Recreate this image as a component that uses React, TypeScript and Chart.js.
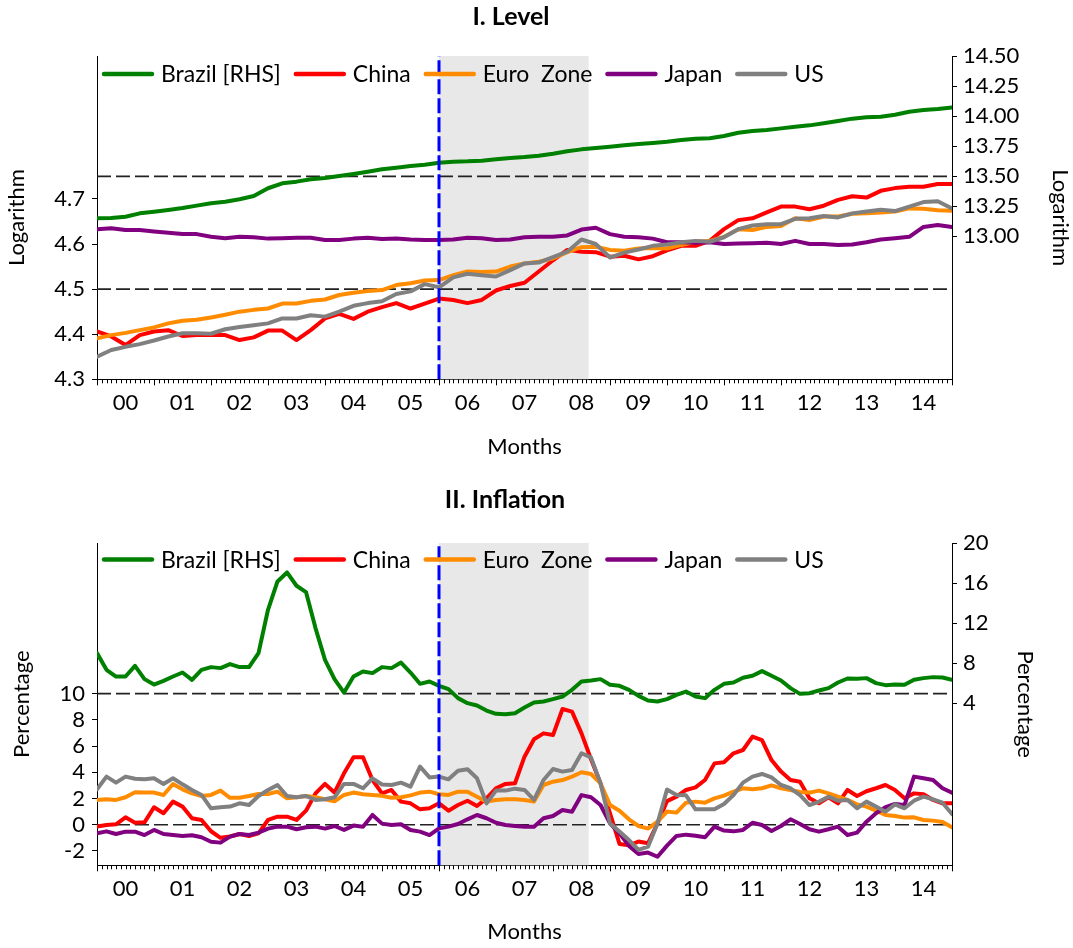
import React, { useEffect, useRef } from 'react';
import { Chart, registerables } from 'chart.js';

Chart.register(...registerables);

const FONT_FAMILY = 'Lato, "Noto Sans", sans-serif';
const FONT_SIZE = 22;
const LEGEND_FONT_SIZE = 23;

// ---------- shared categories ----------
const seriesNames = ['Brazil [RHS]', 'China', 'Euro  Zone', 'Japan', 'US'];
const seriesColors = ['#008000', '#ff0000', '#ff8c00', '#800080', '#808080'];
const yearLabels = ['00', '01', '02', '03', '04', '05', '06', '07', '08', '09', '10', '11', '12', '13', '14'];
const xRange = [2000, 2015];
const shadeRange = [2006, 2008.625];
const vlineDates = [2006];

// quarterly grid (2000Q1 .. 2015) for levels, bi-monthly grid for inflation
const levelDates = Array.from({ length: 61 }, (_, i) => 2000 + i / 4);
const inflationDates = Array.from({ length: 91 }, (_, i) => 2000 + i / 6);

// ---------- I. Level (log) ----------
const levelBrazil = [
  13.148, 13.15, 13.161, 13.189, 13.203, 13.217, 13.233, 13.253, 13.273, 13.286,
  13.306, 13.333, 13.398, 13.439, 13.453, 13.473, 13.483, 13.5, 13.517, 13.536,
  13.556, 13.569, 13.583, 13.594, 13.611, 13.619, 13.622, 13.628, 13.639, 13.65,
  13.658, 13.669, 13.686, 13.706, 13.722, 13.733, 13.744, 13.756, 13.767, 13.775,
  13.785, 13.8, 13.811, 13.814, 13.833, 13.861, 13.875, 13.883, 13.897, 13.911,
  13.922, 13.939, 13.958, 13.978, 13.989, 13.994, 14.011, 14.036, 14.05, 14.058,
  14.072,
];
const levelChina = [
  4.406, 4.395, 4.376, 4.398, 4.406, 4.409, 4.396, 4.398, 4.398, 4.398,
  4.387, 4.393, 4.408, 4.408, 4.387, 4.409, 4.435, 4.445, 4.434, 4.45,
  4.46, 4.469, 4.457, 4.468, 4.479, 4.476, 4.469, 4.476, 4.497, 4.507,
  4.514, 4.539, 4.564, 4.587, 4.583, 4.582, 4.572, 4.574, 4.566, 4.573,
  4.586, 4.596, 4.596, 4.607, 4.633, 4.653, 4.657, 4.67, 4.683, 4.683,
  4.677, 4.685, 4.698, 4.706, 4.703, 4.718, 4.724, 4.727, 4.727, 4.733,
  4.733,
];
const levelEuro = [
  4.391, 4.398, 4.403, 4.409, 4.415, 4.424, 4.43, 4.432, 4.437, 4.443,
  4.45, 4.454, 4.457, 4.468, 4.468, 4.474, 4.477, 4.487, 4.492, 4.496,
  4.498, 4.509, 4.513, 4.519, 4.52, 4.531, 4.539, 4.538, 4.539, 4.55,
  4.557, 4.561, 4.568, 4.582, 4.593, 4.594, 4.587, 4.585, 4.59, 4.591,
  4.59, 4.598, 4.605, 4.607, 4.616, 4.633, 4.631, 4.638, 4.64, 4.657,
  4.653, 4.661, 4.661, 4.667, 4.668, 4.67, 4.672, 4.679, 4.678, 4.675,
  4.674,
];
const levelJapan = [
  4.633, 4.635, 4.631, 4.631, 4.628, 4.625, 4.622, 4.622, 4.616, 4.613,
  4.616, 4.615, 4.612, 4.613, 4.614, 4.614, 4.609, 4.609, 4.612, 4.614,
  4.611, 4.612, 4.61, 4.609, 4.609, 4.61, 4.614, 4.613, 4.609, 4.61,
  4.615, 4.616, 4.616, 4.619, 4.632, 4.636, 4.622, 4.616, 4.615, 4.612,
  4.604, 4.604, 4.603, 4.604, 4.6, 4.601, 4.602, 4.603, 4.6, 4.607,
  4.6, 4.6, 4.598, 4.599, 4.604, 4.61, 4.613, 4.616, 4.638, 4.642,
  4.638,
];
const levelUS = [
  4.35, 4.365, 4.372, 4.378, 4.386, 4.395, 4.402, 4.402, 4.401, 4.411,
  4.416, 4.42, 4.424, 4.435, 4.435, 4.442, 4.439, 4.45, 4.463, 4.469,
  4.473, 4.489, 4.495, 4.511, 4.504, 4.526, 4.534, 4.531, 4.528, 4.542,
  4.557, 4.559, 4.571, 4.583, 4.61, 4.6, 4.57, 4.581, 4.588, 4.596,
  4.599, 4.604, 4.607, 4.605, 4.615, 4.633, 4.641, 4.644, 4.644, 4.656,
  4.657, 4.662, 4.659, 4.668, 4.672, 4.676, 4.673, 4.683, 4.693, 4.695,
  4.679,
];
const levelLeftTicks = [4.3, 4.4, 4.5, 4.6, 4.7];
const levelRightTicks = [13, 13.25, 13.5, 13.75, 14, 14.25, 14.5];
const levelLeftRange = [4.3, 5.017];
const levelRightRange = [11.806, 14.5];
const levelRefLines = [4.5, 4.75];

// ---------- II. Inflation (%) ----------
const infBrazil = [
  9.0, 7.33, 6.66, 6.66, 7.73, 6.4, 5.86, 6.23, 6.66, 7.06,
  6.33, 7.33, 7.6, 7.5, 7.9, 7.6, 7.6, 9.0, 13.33, 16.16,
  17.06, 15.73, 15.1, 11.5, 8.33, 6.4, 5.06, 6.66, 7.16, 7.0,
  7.6, 7.5, 8.06, 7.06, 5.93, 6.16, 5.73, 5.4, 4.5, 4.0,
  3.76, 3.26, 2.93, 2.9, 3.0, 3.56, 4.06, 4.16, 4.4, 4.66,
  5.33, 6.16, 6.26, 6.4, 5.83, 5.73, 5.33, 4.73, 4.26, 4.16,
  4.4, 4.83, 5.16, 4.66, 4.5, 5.33, 5.93, 6.06, 6.53, 6.73,
  7.2, 6.73, 6.26, 5.5, 4.93, 5.0, 5.26, 5.5, 6.06, 6.46,
  6.43, 6.5, 6.0, 5.8, 5.86, 5.83, 6.33, 6.5, 6.6, 6.56,
  6.33,
];
const infChina = [
  -0.15, -0.02, 0.03, 0.56, 0.15, 0.18, 1.33, 0.87, 1.76, 1.38,
  0.49, 0.36, -0.5, -1.0, -0.9, -0.71, -0.86, -0.66, 0.36, 0.61,
  0.61, 0.36, 1.07, 2.39, 3.11, 2.45, 3.92, 5.14, 5.14, 3.41,
  2.39, 2.65, 1.76, 1.63, 1.17, 1.25, 1.63, 1.07, 1.5, 1.83,
  1.43, 2.01, 2.78, 3.11, 3.16, 5.19, 6.52, 6.97, 6.84, 8.83,
  8.63, 6.97, 4.99, 3.16, 0.87, -1.47, -1.57, -1.29, -1.42, 0.1,
  1.8, 2.14, 2.65, 2.85, 3.41, 4.68, 4.76, 5.45, 5.7, 6.72,
  6.46, 4.93, 4.05, 3.41, 3.28, 2.01, 1.63, 2.09, 1.63, 2.65,
  2.19, 2.55, 2.78, 3.03, 2.65, 2.01, 2.39, 2.32, 1.89, 1.63,
  1.63,
];
const infEuro = [
  1.89, 1.94, 1.89, 2.09, 2.47, 2.45, 2.45, 2.27, 3.11, 2.7,
  2.39, 2.19, 2.27, 2.6, 2.05, 2.06, 2.19, 2.34, 2.34, 2.52,
  2.01, 2.09, 2.19, 2.09, 1.94, 1.78, 2.27, 2.45, 2.32, 2.27,
  2.2, 2.06, 2.09, 2.24, 2.45, 2.52, 2.32, 2.27, 2.52, 2.52,
  2.14, 1.76, 1.89, 1.94, 1.94, 1.89, 1.76, 3.03, 3.28, 3.41,
  3.67, 4.0, 3.87, 3.16, 1.5, 1.07, 0.41, -0.1, -0.3, 0.23,
  1.0, 0.92, 1.68, 1.76, 1.68, 2.01, 2.22, 2.52, 2.78, 2.7,
  2.78, 3.0, 2.78, 2.65, 2.5, 2.45, 2.6, 2.39, 2.14, 1.89,
  1.55, 1.38, 1.07, 0.74, 0.66, 0.54, 0.56, 0.36, 0.31, 0.2,
  -0.2,
];
const infJapan = [
  -0.66, -0.51, -0.71, -0.53, -0.53, -0.79, -0.4, -0.71, -0.79, -0.86,
  -0.81, -0.96, -1.3, -1.37, -0.91, -0.71, -0.79, -0.61, -0.3, -0.15,
  -0.15, -0.35, -0.2, -0.15, -0.3, -0.1, -0.4, -0.07, -0.15, 0.74,
  0.08, -0.02, 0.03, -0.4, -0.53, -0.79, -0.28, -0.15, 0.05, 0.41,
  0.74, 0.49, 0.15, -0.02, -0.1, -0.15, -0.15, 0.49, 0.66, 1.12,
  0.99, 2.26, 2.09, 1.5, 0.1, -0.66, -1.62, -2.24, -2.13, -2.45,
  -1.6, -0.86, -0.76, -0.84, -0.96, -0.15, -0.45, -0.51, -0.4, 0.15,
  -0.02, -0.48, -0.1, 0.41, 0.05, -0.35, -0.53, -0.35, -0.15, -0.79,
  -0.61, 0.23, 0.87, 1.33, 1.58, 1.5, 3.67, 3.54, 3.41, 2.78,
  2.44,
];
const infUS = [
  2.7, 3.67, 3.21, 3.67, 3.51, 3.46, 3.54, 3.11, 3.54, 3.08,
  2.65, 2.27, 1.25, 1.33, 1.38, 1.63, 1.5, 2.19, 2.65, 3.03,
  2.19, 2.09, 2.19, 1.89, 1.94, 2.09, 3.11, 3.11, 2.78, 3.54,
  3.07, 3.03, 3.21, 2.9, 4.43, 3.61, 3.67, 3.46, 4.12, 4.23,
  3.54, 1.63, 2.6, 2.6, 2.75, 2.65, 1.89, 3.41, 4.25, 4.05,
  4.18, 5.45, 5.14, 3.16, 0.1, -0.53, -1.17, -1.93, -1.68, 0.1,
  2.68, 2.26, 2.24, 1.17, 1.17, 1.17, 1.58, 2.26, 3.21, 3.67,
  3.87, 3.61, 3.03, 2.78, 2.26, 1.5, 1.76, 2.14, 1.83, 1.89,
  1.25, 1.76, 1.38, 0.99, 1.55, 1.25, 1.83, 2.14, 1.94, 1.68,
  0.81,
];
const infLeftTicks = [-2, 0, 2, 4, 6, 8, 10];
const infRightTicks = [4, 8, 12, 16, 20];
const infLeftRange = [-3.1, 21.5];
const infRightRange = [-12.2, 20];
const infRefLines = [0, 10];

// ---------- layout (styles only) ----------
const W = 1073;
const LEFT_W = 97;
const RIGHT_W = 121;
const PLOT_BOTTOM = 379.3;

type PanelSpec = {
  title: string;
  titleX: number;
  titleY: number;
  height: number;
  top: number;
  dates: number[];
  series: number[][];
  leftTitle: string;
  leftRange: number[];
  rightRange: number[];
  leftTicks: number[];
  rightTicks: number[];
  leftDecimals: number;
  rightDecimals: number;
  refLines: number[];
  leftTitlePad: number;
  rightTitlePad: number;
  xTitlePad: number;
  legendDy: number;
};

const font = { family: FONT_FAMILY, size: FONT_SIZE };

const decorPlugin = {
  id: 'decor',
  beforeDatasetsDraw(chart: any, _a: any, opts: any) {
    const { ctx, chartArea: ca, scales } = chart;
    ctx.save();
    const x0 = scales.x.getPixelForValue(opts.shade[0]);
    const x1 = scales.x.getPixelForValue(opts.shade[1]);
    ctx.fillStyle = '#e8e8e8';
    ctx.fillRect(x0, ca.top, x1 - x0, ca.bottom - ca.top);
    ctx.strokeStyle = '#222';
    ctx.lineWidth = 1.6;
    ctx.setLineDash([14, 5]);
    for (const v of opts.refLines) {
      const y = scales.y.getPixelForValue(v);
      ctx.beginPath();
      ctx.moveTo(ca.left, y);
      ctx.lineTo(ca.right, y);
      ctx.stroke();
    }
    ctx.restore();
  },
  afterDatasetsDraw(chart: any, _a: any, opts: any) {
    const { ctx, chartArea: ca, scales } = chart;
    ctx.save();
    ctx.strokeStyle = '#0000ff';
    ctx.lineWidth = 3;
    ctx.setLineDash([15, 4]);
    for (const d of opts.vlines) {
      const x = scales.x.getPixelForValue(d);
      ctx.beginPath();
      ctx.moveTo(x, ca.bottom);
      ctx.lineTo(x, ca.top);
      ctx.stroke();
    }
    ctx.restore();
  },
  afterDraw(chart: any, _a: any, opts: any) {
    const { ctx, chartArea: ca, scales } = chart;
    ctx.save();
    // monthly minor ticks, yearly major ticks
    ctx.strokeStyle = '#000';
    ctx.lineWidth = 1;
    const [a, b] = opts.xRange;
    const months = (b - a) * 12;
    for (let m = 0; m <= months; m++) {
      const x = Math.round(scales.x.getPixelForValue(a + m / 12)) + 0.5;
      const len = m % 12 === 0 ? 6 : 4;
      ctx.beginPath();
      ctx.moveTo(x, ca.bottom);
      ctx.lineTo(x, ca.bottom + len);
      ctx.stroke();
    }
    // one-row legend inside the plot area
    ctx.font = `${LEGEND_FONT_SIZE}px ${FONT_FAMILY}`;
    ctx.textAlign = 'left';
    ctx.textBaseline = 'middle';
    let lx = ca.left + 7;
    const ly = ca.top + opts.legendDy;
    chart.data.datasets.forEach((ds: any) => {
      ctx.strokeStyle = ds.borderColor;
      ctx.lineWidth = 4.5;
      ctx.lineCap = 'round';
      ctx.beginPath();
      ctx.moveTo(lx, ly);
      ctx.lineTo(lx + 48, ly);
      ctx.stroke();
      lx += 48 + 9;
      ctx.fillStyle = '#000';
      ctx.fillText(ds.label, lx, ly + 1);
      lx += ctx.measureText(ds.label).width + 15;
    });
    // panel title
    ctx.fillStyle = '#000';
    ctx.font = `bold 25px ${FONT_FAMILY}`;
    ctx.textAlign = 'center';
    ctx.textBaseline = 'middle';
    ctx.fillText(opts.title, opts.titleX, opts.titleY);
    ctx.restore();
  },
};

function makeConfig(p: PanelSpec): any {
  const datasets = p.series.map((s, i) => ({
    label: seriesNames[i],
    data: p.dates.map((d, j) => ({ x: d, y: s[j] })),
    borderColor: seriesColors[i],
    backgroundColor: seriesColors[i],
    borderWidth: 4,
    borderCapStyle: 'round',
    borderJoinStyle: 'round',
    pointRadius: 0,
    tension: 0,
    yAxisID: i === 0 ? 'y1' : 'y',
    order: seriesNames.length - i,
  }));
  return {
    type: 'line',
    data: { datasets },
    plugins: [decorPlugin],
    options: {
      animation: false,
      responsive: false,
      devicePixelRatio: 1,
      events: [],
      layout: { padding: { top: p.top, left: 0, right: 0, bottom: 0 } },
      plugins: {
        tooltip: { enabled: false },
        title: { display: false },
        legend: { display: false },
        decor: {
          shade: shadeRange,
          vlines: vlineDates,
          refLines: p.refLines,
          xRange,
          title: p.title,
          titleX: p.titleX,
          titleY: p.titleY,
          legendDy: p.legendDy,
        },
      },
      scales: {
        x: {
          type: 'linear',
          min: xRange[0],
          max: xRange[1],
          afterBuildTicks: (s: any) => {
            s.ticks = yearLabels.map((_, i) => ({ value: xRange[0] + i + 0.5 }));
          },
          afterFit: (s: any) => {
            s.height = p.height - PLOT_BOTTOM;
          },
          ticks: {
            autoSkip: false,
            maxRotation: 0,
            padding: 10,
            color: '#000',
            font,
            callback: (v: number) => yearLabels[Math.floor(v - xRange[0])],
          },
          grid: { display: false, drawTicks: false },
          border: { display: true, color: '#000', width: 1 },
          title: {
            display: true,
            text: 'Months',
            color: '#000',
            font,
            padding: { top: 0, bottom: p.xTitlePad },
          },
        },
        y: {
          type: 'linear',
          position: 'left',
          min: p.leftRange[0],
          max: p.leftRange[1],
          afterBuildTicks: (s: any) => {
            s.ticks = p.leftTicks.map((v) => ({ value: v }));
          },
          afterFit: (s: any) => {
            s.width = LEFT_W;
          },
          ticks: {
            padding: 7,
            color: '#000',
            font,
            callback: (v: number) => v.toFixed(p.leftDecimals),
          },
          grid: { drawOnChartArea: false, drawTicks: true, tickLength: 5, color: '#000', tickColor: '#000' },
          border: { display: true, color: '#000', width: 1 },
          title: {
            display: true,
            text: p.leftTitle,
            color: '#000',
            font,
            padding: { top: p.leftTitlePad, bottom: 0 },
          },
        },
        y1: {
          type: 'linear',
          position: 'right',
          min: p.rightRange[0],
          max: p.rightRange[1],
          afterBuildTicks: (s: any) => {
            s.ticks = p.rightTicks.map((v) => ({ value: v }));
          },
          afterFit: (s: any) => {
            s.width = RIGHT_W;
          },
          ticks: {
            padding: 6,
            color: '#000',
            font,
            callback: (v: number) => v.toFixed(p.rightDecimals),
          },
          grid: { drawOnChartArea: false, drawTicks: true, tickLength: 5, color: '#000', tickColor: '#000' },
          border: { display: true, color: '#000', width: 1 },
          title: {
            display: true,
            text: p.leftTitle,
            color: '#000',
            font,
            padding: { top: p.rightTitlePad, bottom: 0 },
          },
        },
      },
    },
  };
}

const levelSpec: PanelSpec = {
  title: 'I. Level',
  titleX: 511,
  titleY: 17,
  height: 486,
  top: 56,
  dates: levelDates,
  series: [levelBrazil, levelChina, levelEuro, levelJapan, levelUS],
  leftTitle: 'Logarithm',
  leftRange: levelLeftRange,
  rightRange: levelRightRange,
  leftTicks: levelLeftTicks,
  rightTicks: levelRightTicks,
  leftDecimals: 1,
  rightDecimals: 2,
  refLines: levelRefLines,
  leftTitlePad: 4,
  rightTitlePad: 0,
  xTitlePad: 26,
  legendDy: 18,
};

const inflationSpec: PanelSpec = {
  title: 'II. Inflation',
  titleX: 505,
  titleY: 14,
  height: 462,
  top: 57,
  dates: inflationDates,
  series: [infBrazil, infChina, infEuro, infJapan, infUS],
  leftTitle: 'Percentage',
  leftRange: infLeftRange,
  rightRange: infRightRange,
  leftTicks: infLeftTicks,
  rightTicks: infRightTicks,
  leftDecimals: 0,
  rightDecimals: 0,
  refLines: infRefLines,
  leftTitlePad: 9,
  rightTitlePad: 35,
  xTitlePad: 3,
  legendDy: 16.5,
};

function Panel({ spec }: { spec: PanelSpec }) {
  const ref = useRef<HTMLCanvasElement>(null);
  useEffect(() => {
    if (!ref.current) return;
    const chart = new Chart(ref.current, makeConfig(spec));
    return () => chart.destroy();
  }, [spec]);
  return (
    <canvas
      ref={ref}
      width={W}
      height={spec.height}
      style={{ display: 'block', width: W, height: spec.height }}
    />
  );
}

export default function App() {
  useEffect(() => {
    document.body.style.margin = '0';
    document.body.style.background = '#ffffff';
  }, []);
  return (
    <div style={{ width: W, background: '#ffffff' }}>
      <Panel spec={levelSpec} />
      <Panel spec={inflationSpec} />
    </div>
  );
}
